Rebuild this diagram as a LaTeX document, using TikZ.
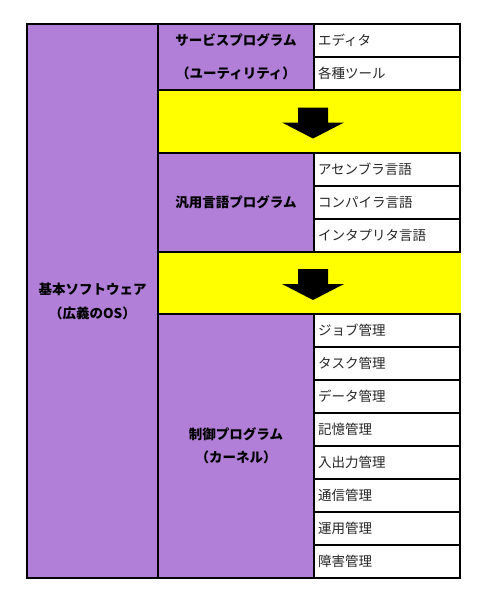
\documentclass[tikz,border=0pt]{standalone}
\usepackage{fontspec}
\newfontfamily\jp{Noto Sans CJK JP}
\usetikzlibrary{positioning}
\definecolor{osviolet}{RGB}{177,127,216}
\definecolor{bandyellow}{RGB}{255,255,0}

\begin{document}
\begin{tikzpicture}[x=1pt, y=-1pt,
    grp/.style={draw, line width=2pt, fill=osviolet, anchor=north west, outer sep=0pt, inner sep=0pt, align=center, font=\jp\bfseries\fontsize{13.5pt}{24pt}\selectfont},
    item/.style={draw, line width=2pt, fill=white, anchor=north west, outer sep=0pt, minimum width=146pt, minimum height=33pt, text width=138pt, inner xsep=4pt, inner ysep=0pt, align=left, font=\jp\fontsize{13.5pt}{16pt}\selectfont, text=black!85},
    band/.style={fill=bandyellow, anchor=north west, outer sep=0pt, inner sep=0pt, minimum width=303pt},
    downarr/.pic={\fill (-15,-14) -- (15,-14) -- (15,1) -- (31,1) -- (0,17) -- (-31,1) -- (-15,1) -- cycle;}]
    \useasboundingbox (0,0) rectangle (485,603);

    % Yellow bands
    \node[band, minimum height=63pt] (band1) at (158,90) {};
    \node[band, minimum height=62pt] (band2) at (158,252) {};
    \pic at ([xshift=3.5pt]band1.center) {downarr};
    \pic at ([xshift=3.5pt]band2.center) {downarr};

    % Left column
    \node[grp, minimum width=131pt, minimum height=554pt] (os) at (27,24) {基本ソフトウェア\\（広義のOS）};

    % Middle column
    \node[grp, minimum width=156pt, minimum height=66pt] (util) at (158,24) {サービスプログラム\\[9pt]（ユーティリティ）};
    \node[grp, minimum width=156pt, minimum height=99pt] (lang) at (158,153) {汎用言語プログラム};
    \node[grp, minimum width=156pt, minimum height=264pt] (kernel) at (158,314) {制御プログラム\\[-1pt]（カーネル）};

    % Right column
    \node[item] (editor) at (314,24) {エディタ};
    \node[item, below=0pt of editor] (tools) {各種ツール};

    \node[item] (asm) at (314,153) {アセンブラ言語};
    \node[item, below=0pt of asm] (compiler) {コンパイラ言語};
    \node[item, below=0pt of compiler] (interp) {インタプリタ言語};

    \foreach \t [count=\i] in {ジョブ管理,タスク管理,データ管理,記憶管理,入出力管理,通信管理,運用管理,障害管理}
        \node[item] (k\i) at (314,{281+33*\i}) {\t};
\end{tikzpicture}
\end{document}
